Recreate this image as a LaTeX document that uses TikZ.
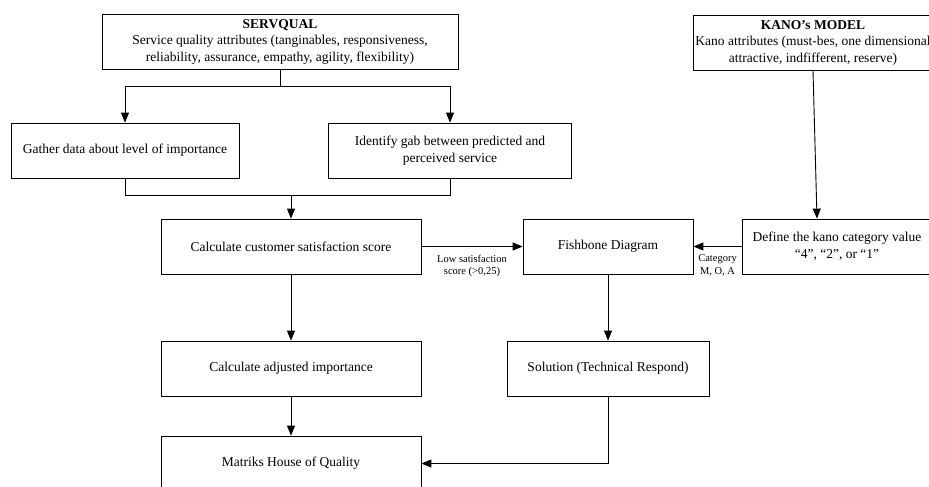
\documentclass[tikz,border=0pt]{standalone}
\usepackage{fontspec}
\setmainfont{Liberation Serif}
\usepackage{tikz}
\usetikzlibrary{arrows.meta, positioning, calc}

\begin{document}
\begin{tikzpicture}[
    x=1pt, y=-1pt,
    >={Triangle[length=10pt, width=8pt]},
    line width=0.9pt,
    procbox/.style={draw, line width=0.8pt, minimum height=55pt, align=center, inner sep=2pt, font=\fontsize{13.5}{16.5}\selectfont},
    lbl/.style={font=\fontsize{10.5}{12.5}\selectfont, align=center, inner sep=1pt},
]
    \useasboundingbox (0,0) rectangle (929,487);
    \clip (0,0) rectangle (929,487);
    % top row
    \node[procbox, minimum width=356pt] (servqual) at (280,41.5) {
        \textbf{SERVQUAL}\\
        Service quality attributes (tanginables, responsiveness,\\
        reliability, assurance, empathy, agility, flexibility)
    };
    \node[procbox, minimum width=240pt] (kano) at (813,42.5) {
        \textbf{KANO’s MODEL}\\
        Kano attributes (must-bes, one dimensional\\
        attractive, indfifferent, reserve)
    };
    % second row
    \node[procbox, minimum width=228pt] (gather) at (125,150.5) {Gather data about level of importance};
    \node[procbox, minimum width=243pt] (gap) at (450,150.5) {Identify gab between predicted and\\perceived service};
    % middle row
    \node[procbox, minimum width=260pt] (calc) at (291,246.5) {Calculate customer satisfaction score};
    \node[procbox, minimum width=170pt] (fishbone) at (608,246.5) {Fishbone Diagram};
    \node[procbox, minimum width=190pt] (define) at (837,246.5) {Define the kano category value\\“4”, “2”, or “1”};
    % lower rows
    \node[procbox, minimum width=260pt] (adjusted) at (291,368.5) {Calculate adjusted importance};
    \node[procbox, minimum width=202pt] (solution) at (608,368.5) {Solution (Technical Respond)};
    \node[procbox, minimum width=260pt] (hoq) at (291,463.5) {Matriks House of Quality};

    % connectors
    \coordinate (split) at (280,86);
    \coordinate (merge) at (291,195);
    \draw (servqual.south) -- (split);
    \draw[->] (split) -| (gather.north);
    \draw[->] (split) -| (gap.north);
    \draw (gather.south) |- (merge);
    \draw (gap.south) |- (merge);
    \draw[->] (merge) -- (calc.north);
    \draw[->] (calc.east) -- node[lbl, below=7pt] {Low satisfaction\\score (>0,25)} (fishbone.west);
    \draw[->] (kano.south) -- ([xshift=-20pt]define.north);
    \draw[->] (define.west) -- node[lbl, below=7pt] {Category\\M, O, A} (fishbone.east);
    \draw[->] (calc.south) -- (adjusted.north);
    \draw[->] (adjusted.south) -- (hoq.north);
    \draw[->] (fishbone.south) -- (solution.north);
    \draw[->] (solution.south) |- (hoq.east);
\end{tikzpicture}
\end{document}
